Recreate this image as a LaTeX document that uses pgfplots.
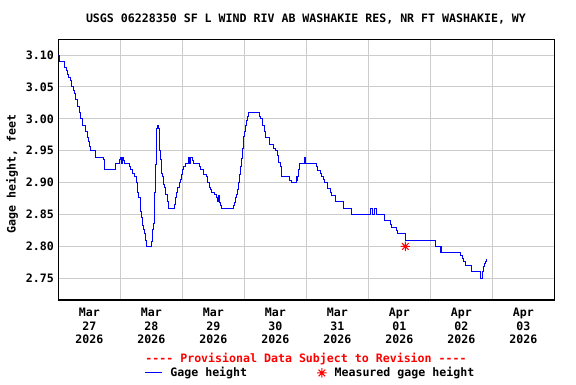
\documentclass[border=0pt]{standalone}
\usepackage{pgfplots}
\pgfplotsset{compat=1.18}
\usepackage{fontspec}
\setmainfont{DejaVu Sans Mono}[Ligatures=TeXOff]
\definecolor{gridgray}{RGB}{204,204,204}
\definecolor{usgsblue}{RGB}{0,0,255}
\definecolor{usgsred}{RGB}{255,0,0}
\pgfdeclareplotmark{usgsstar}{%
  \pgfpathmoveto{\pgfqpoint{-\pgfplotmarksize}{0pt}}\pgfpathlineto{\pgfqpoint{\pgfplotmarksize}{0pt}}%
  \pgfpathmoveto{\pgfqpoint{0pt}{-\pgfplotmarksize}}\pgfpathlineto{\pgfqpoint{0pt}{\pgfplotmarksize}}%
  \pgfpathmoveto{\pgfqpoint{-0.707\pgfplotmarksize}{-0.707\pgfplotmarksize}}\pgfpathlineto{\pgfqpoint{0.707\pgfplotmarksize}{0.707\pgfplotmarksize}}%
  \pgfpathmoveto{\pgfqpoint{-0.707\pgfplotmarksize}{0.707\pgfplotmarksize}}\pgfpathlineto{\pgfqpoint{0.707\pgfplotmarksize}{-0.707\pgfplotmarksize}}%
  \pgfusepathqstroke}
\pgfplotstableread{
x y
0.000 3.100
0.022 3.090
0.097 3.080
0.135 3.075
0.151 3.070
0.172 3.065
0.189 3.060
0.210 3.050
0.242 3.045
0.259 3.040
0.280 3.030
0.307 3.020
0.339 3.010
0.366 3.000
0.398 2.990
0.441 2.980
0.463 2.970
0.484 2.965
0.500 2.957
0.517 2.950
0.603 2.940
0.721 2.936
0.742 2.930
0.753 2.920
0.920 2.930
0.984 2.936
1.000 2.940
1.022 2.930
1.038 2.940
1.049 2.935
1.060 2.930
1.146 2.925
1.172 2.920
1.199 2.915
1.237 2.910
1.269 2.900
1.285 2.885
1.301 2.876
1.323 2.855
1.339 2.846
1.355 2.832
1.371 2.826
1.388 2.820
1.404 2.810
1.420 2.800
1.506 2.807
1.522 2.826
1.538 2.836
1.554 2.885
1.571 2.928
1.587 2.985
1.603 2.990
1.619 2.985
1.635 2.950
1.651 2.936
1.667 2.915
1.683 2.910
1.699 2.897
1.715 2.892
1.732 2.881
1.764 2.871
1.780 2.860
1.871 2.866
1.893 2.876
1.914 2.885
1.930 2.892
1.957 2.900
1.979 2.905
1.995 2.912
2.011 2.920
2.027 2.925
2.049 2.930
2.097 2.940
2.124 2.930
2.140 2.940
2.167 2.935
2.188 2.930
2.285 2.925
2.296 2.920
2.350 2.912
2.393 2.909
2.404 2.900
2.436 2.893
2.458 2.889
2.474 2.885
2.517 2.881
2.544 2.876
2.565 2.871
2.581 2.880
2.592 2.871
2.597 2.869
2.614 2.864
2.630 2.860
2.823 2.864
2.839 2.869
2.855 2.876
2.877 2.881
2.888 2.889
2.904 2.900
2.920 2.913
2.936 2.925
2.952 2.938
2.968 2.954
2.984 2.972
3.000 2.980
3.017 2.990
3.038 2.997
3.054 3.004
3.070 3.010
3.243 3.004
3.264 3.000
3.296 2.990
3.318 2.980
3.350 2.970
3.414 2.960
3.479 2.954
3.501 2.950
3.533 2.943
3.554 2.932
3.576 2.925
3.592 2.920
3.608 2.910
3.737 2.904
3.764 2.900
3.834 2.904
3.850 2.910
3.872 2.920
3.898 2.930
3.979 2.940
3.990 2.930
4.167 2.925
4.183 2.919
4.232 2.914
4.248 2.909
4.275 2.905
4.296 2.900
4.339 2.890
4.398 2.885
4.414 2.880
4.479 2.871
4.597 2.860
4.721 2.850
5.038 2.859
5.065 2.850
5.108 2.859
5.135 2.850
5.269 2.841
5.366 2.835
5.382 2.830
5.457 2.825
5.468 2.821
5.597 2.810
6.086 2.800
6.172 2.791
6.183 2.800
6.188 2.790
6.495 2.786
6.516 2.781
6.538 2.776
6.565 2.770
6.657 2.760
6.812 2.750
6.839 2.760
6.855 2.768
6.871 2.773
6.887 2.777
6.903 2.780
6.914 2.780
}\gagedata
\begin{document}
\begin{tikzpicture}[x=1pt,y=1pt]
\begin{axis}[
  at={(58.3pt,84pt)}, anchor=south west,
  scale only axis, width=496pt, height=260.5pt,
  xmin=0, xmax=8, ymin=2.716, ymax=3.1243,
  xtick={0.5,1.5,2.5,3.5,4.5,5.5,6.5,7.5},
  xticklabels={{Mar\\27\\2026},{Mar\\28\\2026},{Mar\\29\\2026},{Mar\\30\\2026},{Mar\\31\\2026},{Apr\\01\\2026},{Apr\\02\\2026},{Apr\\03\\2026}},
  minor xtick={1,2,3,4,5,6,7},
  xminorgrids=true, xmajorgrids=false, ymajorgrids=true,
  ytick={2.75,2.80,2.85,2.90,2.95,3.00,3.05,3.10},
  yticklabels={2.75,2.80,2.85,2.90,2.95,3.00,3.05,3.10},
  major tick length=0pt, minor tick length=0pt,
  tick label style={font=\fontsize{11.6}{13}\selectfont\bfseries},
  xticklabel style={align=center, yshift=-5pt, font=\fontsize{11.6}{13.5}\selectfont\bfseries},
  yticklabel style={xshift=-1pt},
  grid style={line width=1pt, color=gridgray},
  minor grid style={line width=1pt, color=gridgray},
  axis line style={line width=1.2pt, black},
  legend columns=2,
  legend style={at={(0.508,-0.28)}, anchor=center, draw=none, fill=none,
    font=\fontsize{11.6}{13}\selectfont\bfseries,
    /tikz/every odd column/.append style={column sep=6pt},
    /tikz/every even column/.append style={column sep=68pt},
    inner sep=0pt},
  legend cell align=left,
]
\addplot[usgsblue, line width=1pt, const plot] table {\gagedata};
\addlegendentry{Gage height}
\addplot[only marks, usgsred, mark=usgsstar, mark size=4.7pt, line width=1pt] coordinates {(5.597,2.80)};
\addlegendentry{Measured gage height}
\end{axis}
\node[font=\fontsize{11.6}{13}\selectfont\bfseries] at (306pt,365pt) {USGS 06228350 SF L WIND RIV AB WASHAKIE RES, NR FT WASHAKIE, WY};
\node[font=\fontsize{11.6}{13}\selectfont\bfseries, rotate=90] at (12pt,210pt) {Gage height, feet};
\node[font=\fontsize{11.6}{13}\selectfont\bfseries, text=usgsred] at (306pt,25pt) {---- Provisional Data Subject to Revision ----};
\pgfresetboundingbox
\useasboundingbox (0,0) rectangle (576pt,384pt);
\end{tikzpicture}
\end{document}
